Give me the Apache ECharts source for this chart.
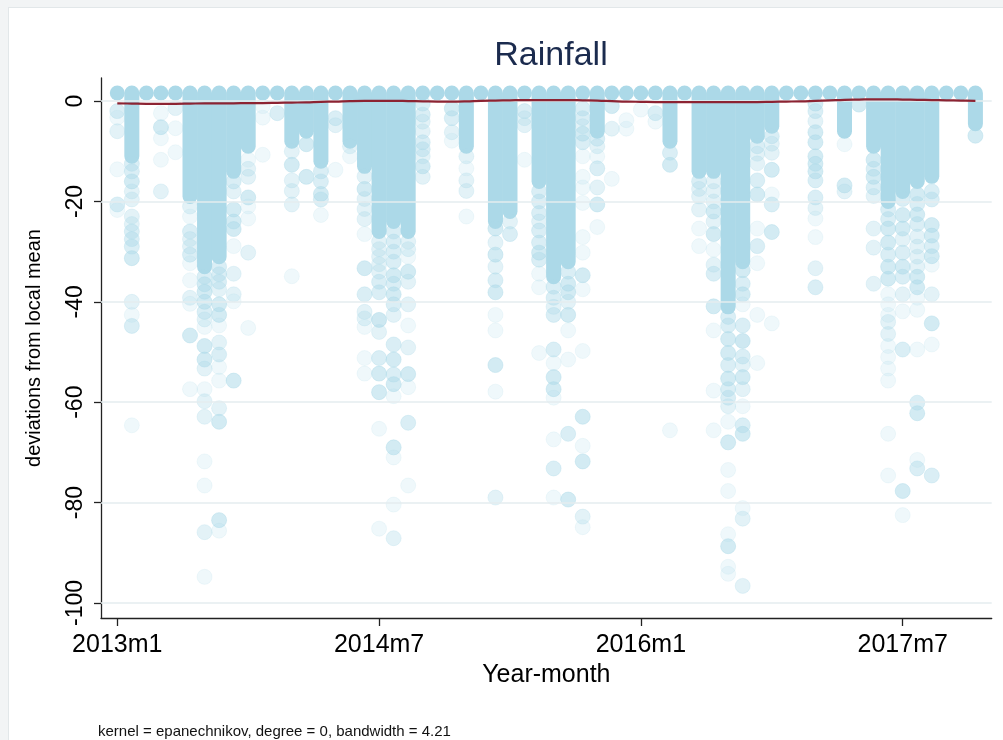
<!DOCTYPE html>
<html>
<head>
<meta charset="utf-8">
<script src="https://cdn.jsdelivr.net/npm/echarts@6/dist/echarts.min.js"></script>
<style>
  html, body { margin: 0; padding: 0; background: #f2f4f5; }
  #frame { position: absolute; left: 8px; top: 7px; width: 1010px; height: 750px;
           background: #ffffff; border: 1px solid #e2e7e9; }
  #chart { position: absolute; left: 0; top: 0; width: 1003px; height: 740px; }
</style>
</head>
<body>
<div id="frame"></div>
<div id="chart"></div>
<script>
// Month index 0 = 2013m1 ... 59 = 2017m12
const chartTitle = 'Rainfall';
const xTitle = 'Year-month';
const yTitle = 'deviations from local mean';
const noteText = 'kernel = epanechnikov, degree = 0, bandwidth = 4.21';
const xTickValues = [0, 18, 36, 54];
const xTickLabels = ['2013m1', '2014m7', '2016m1', '2017m7'];
const yTickValues = [-100, -80, -60, -40, -20, 0];

// Upper end of each month's dense cluster of observations
const clusterTop = [
  1.6,1.6,1.6,1.6,1.6,1.6,1.6,1.6,1.6,1.6,
  1.6,1.6,1.6,1.6,1.6,1.6,1.6,1.6,1.6,1.6,
  1.6,1.6,1.6,1.6,1.6,1.6,1.6,1.6,1.6,1.6,
  1.6,1.6,1.6,1.6,1.6,1.6,1.6,1.6,1.6,1.6,
  1.6,1.6,1.6,1.6,1.6,1.6,1.6,1.6,1.6,1.6,
  1.6,1.6,1.6,1.6,1.6,1.6,1.6,1.6,1.6,1.6
];
// Lower end of each month's dense cluster (null: cluster only at the top)
const clusterBottom = [
  null, -11, null, null, null, -19, -33, -31, -14, -9,
  null, null, -8, -6, -12, null, -8, -13, -26, -24,
  -26, null, null, null, -9, null, -24, -22, null, -16,
  -35, -32, null, -6, null, null, null, null, -8, null,
  -14, -14, -41, -32, -7, -5, null, null, null, null,
  -6, null, -9, -20, -18, -16, -15, null, null, -4.5
];
// Scattered observations per month: [deviation, number of overlapping obs]
const scattered = [
  [[-2,3],[-3.3,1],[-6,2],[-13.6,1],[-20.6,3],[-21.7,1]],
  [[-12.5,3],[-14,3],[-16,4],[-18,2],[-19.6,2],[-23,2],[-24.5,2],[-26,3],[-27.5,3],[-29,3],[-31.3,4],[-40,2],[-42.6,1],[-44.8,3],[-64.6,1]],
  [],
  [[-2.4,1],[-5.2,4],[-7.4,1],[-11.7,1],[-18,2]],
  [[-1.4,2],[-5.4,1],[-10.2,1]],
  [[-21,2],[-23,1],[-26,3],[-27.5,2],[-29,2],[-30.6,3],[-32.3,1],[-35.7,1],[-39.2,2],[-40.4,1],[-46.7,4],[-57.4,1]],
  [[-35,3],[-36.5,4],[-38,4],[-40,4],[-42,3],[-43.5,2],[-45,1],[-48.8,4],[-51.5,4],[-53.3,2],[-57.4,1],[-59.8,2],[-62.9,2],[-71.8,1],[-76.6,1],[-85.9,2],[-94.8,1]],
  [[-33,3],[-34.5,3],[-36,3],[-37.5,2],[-40.5,4],[-42.6,4],[-44.7,1],[-48.1,2],[-50.5,3],[-53,1],[-55.7,1],[-61.2,2],[-63.9,4],[-83.5,4],[-85.6,1]],
  [[-16,3],[-18,2],[-21.6,4],[-24,4],[-25.5,4],[-28.9,1],[-34.4,2],[-38.5,2],[-39.9,1],[-55.7,4]],
  [[-11.7,1],[-13.5,2],[-15.1,2],[-19.2,4],[-21,1],[-23.4,1],[-30.2,2],[-45.2,1]],
  [[-1,1],[-3.3,1],[-10.7,1]],
  [[-2.4,3]],
  [[-10,2],[-12.7,4],[-15.8,2],[-17.9,2],[-20.6,2],[-34.9,1]],
  [[-8.6,4],[-15.1,4]],
  [[-14,3],[-16,3],[-18.5,4],[-19.6,3],[-22.7,1]],
  [[-3.4,3],[-4.8,2],[-13.7,1]],
  [[-9,2],[-11,1]],
  [[-15,2],[-17.5,4],[-19.5,2],[-21.5,2],[-23.5,2],[-26.5,1],[-33.3,4],[-38.5,3],[-42,2],[-43.3,2],[-45,1],[-51.2,1],[-54.3,1]],
  [[-28,2],[-29.5,2],[-31,2],[-32.5,2],[-34,2],[-36,3],[-38.1,3],[-43.6,5],[-46,2],[-51.2,3],[-54.3,4],[-58,4],[-65.3,1],[-85.2,1]],
  [[-26,3],[-28,3],[-30,3],[-32,3],[-34.7,4],[-36.4,3],[-38.5,4],[-40.5,3],[-42.6,2],[-48.5,3],[-51.5,4],[-54.5,3],[-56.4,4],[-58.8,1],[-69,4],[-71,1],[-80.4,1],[-87.1,2]],
  [[-28,2],[-29.5,2],[-31,1],[-34,4],[-36,2],[-40.5,2],[-44.7,1],[-49.1,2],[-54.4,4],[-57,1],[-64.1,3],[-76.6,1]],
  [[-0.5,3],[-2.7,3],[-4.1,2],[-6,2],[-8.2,3],[-9.6,3],[-11,2],[-13,4],[-15.1,2]],
  [],
  [[-1.5,4],[-3.4,3],[-6.2,2],[-7.9,1]],
  [[-11,2],[-13.4,1],[-15.8,2],[-17.9,2],[-23,1]],
  [],
  [[-25.4,4],[-28.2,2],[-30.6,4],[-33,2],[-35.7,3],[-38.1,4],[-42.6,1],[-45.7,1],[-52.6,4],[-57.9,1],[-79,2]],
  [[-24,2],[-26.5,3]],
  [[-2,3],[-3.4,2],[-4.8,2],[-11.7,1]],
  [[-18,3],[-20,3],[-22.3,3],[-24,2],[-25.8,3],[-28.2,3],[-30.2,4],[-31.6,3],[-34.4,1],[-37.1,1],[-50.2,1]],
  [[-37,3],[-39.2,3],[-41,2],[-42.6,3],[-49.5,3],[-52.2,1],[-55,4],[-57.4,4],[-59.1,1],[-67.4,1],[-73.2,3],[-79,1]],
  [[-34,3],[-36.4,4],[-38.1,4],[-40,2],[-42.6,4],[-45.7,1],[-51.5,1],[-66.3,3],[-79.4,4]],
  [[-1.5,3],[-3.4,3],[-5,2],[-6.5,4],[-8.2,3],[-11,1],[-15.1,1],[-17.2,1],[-20.3,1],[-27.1,1],[-30.2,1],[-34.7,4],[-37.5,1],[-49.8,1],[-62.9,4],[-68.7,1],[-71.8,4],[-82.8,2],[-84.9,1]],
  [[-7.5,3],[-9,2],[-11,1],[-13.4,3],[-17.2,2],[-20.6,4],[-25.1,1]],
  [[-1,4],[-5.5,2],[-15.5,1]],
  [[-3.8,1],[-5.5,1]],
  [[-1.7,1]],
  [[-2.4,3],[-4.1,1]],
  [[-10.3,3],[-12.7,4],[-65.6,1]],
  [],
  [[-16,3],[-17.5,2],[-19,2],[-21.6,2],[-25.4,1],[-28.9,1]],
  [[-16,2],[-17.9,2],[-20,2],[-22,4],[-24,2],[-26.5,4],[-29.6,1],[-32.6,2],[-34.4,3],[-40.9,4],[-45.7,1],[-57.7,1],[-65.6,1]],
  [[-43,3],[-44.7,3],[-47.4,4],[-50.2,4],[-52.6,3],[-55.3,4],[-57.4,3],[-59.1,3],[-60.8,2],[-63.9,1],[-68,4],[-73.5,1],[-77.7,1],[-86.3,1],[-88.7,4],[-92.8,1],[-94.2,1]],
  [[-33.7,4],[-36.4,3],[-38.5,4],[-40.5,1],[-44.7,3],[-47.8,5],[-50.9,3],[-52.5,2],[-55,4],[-57.4,2],[-60.8,1],[-64.6,3],[-66.3,4],[-81.1,1],[-83.2,2],[-96.6,2]],
  [[-9,3],[-10.5,2],[-12.4,2],[-15.8,3],[-18.6,4],[-25.4,1],[-28.9,3],[-32.3,1],[-42.6,1],[-52.2,1]],
  [[-7,3],[-8.5,2],[-10.3,2],[-13.7,4],[-18.6,1],[-20.6,3],[-26.1,4],[-44.3,1]],
  [],
  [],
  [[-0.5,4],[-2,3],[-4,2],[-6.2,4],[-8.2,4],[-11,4],[-12.5,4],[-14,4],[-15.8,3],[-19.2,3],[-21.3,2],[-23.4,1],[-27.1,1],[-33.3,2],[-37.1,3]],
  [],
  [[-8.6,1],[-16.8,4],[-18,2]],
  [[-0.7,4]],
  [[-11.7,4],[-13.5,3],[-15.1,4],[-17.2,3],[-18.9,2],[-25.4,2],[-29.2,2],[-36.4,2]],
  [[-21.6,3],[-23.5,3],[-25.4,4],[-28.2,4],[-30.6,3],[-33,4],[-35.4,4],[-38.5,1],[-40.5,1],[-42.6,1],[-44,2],[-46.4,2],[-48.8,1],[-51,1],[-53.3,1],[-55.7,1],[-66.3,1],[-74.6,1]],
  [[-19.5,3],[-22.7,4],[-25.4,4],[-27.5,2],[-30.2,3],[-33,4],[-35,3],[-38.5,2],[-41.9,1],[-49.5,3],[-77.7,4],[-82.5,1]],
  [[-18.6,4],[-20.5,3],[-22.6,4],[-24.5,3],[-27,2],[-29,2],[-31,2],[-33,2],[-35,4],[-37.1,4],[-39.2,1],[-41.6,1],[-49.5,1],[-60.1,3],[-62.2,4],[-71.5,1],[-73.2,3]],
  [[-18,3],[-19.6,3],[-24.7,4],[-26.8,4],[-28.9,3],[-30.9,4],[-32.6,1],[-38.5,2],[-44.3,4],[-48.5,1],[-74.6,3]],
  [],
  [],
  [[-6.9,4]]
];
// Local-mean smooth (epanechnikov kernel) evaluated per month
const smoothLine = [
  -0.45,-0.5,-0.55,-0.55,-0.55,-0.5,-0.45,-0.45,-0.45,-0.4,
  -0.4,-0.35,-0.3,-0.25,-0.15,-0.1,0,0.05,0.05,0.05,
  0,-0.05,-0.1,-0.1,-0.05,0.05,0.1,0.15,0.2,0.2,
  0.2,0.2,0.15,0.1,0,-0.1,-0.15,-0.2,-0.2,-0.2,
  -0.2,-0.2,-0.2,-0.2,-0.2,-0.15,-0.1,-0.05,0.05,0.15,
  0.25,0.3,0.35,0.35,0.3,0.25,0.2,0.15,0.1,0.05
];

const FONT = '"Liberation Sans", Arial, Helvetica, sans-serif';
const MARKER = 15;
const DOT_RGB = '172,217,232';
const DOT_SOLID = 'rgb(' + DOT_RGB + ')';
const BASE_ALPHA = 0.24;

// Dense clusters drawn as capsules spanning their value range
const clusterData = clusterTop.map((t, m) => [m, t, clusterBottom[m] === null ? t : clusterBottom[m]]);

// Scattered observations; overlapping counts darken the fill
const dotData = [];
scattered.forEach((list, m) => {
  list.forEach(([v, w]) => {
    const a = 1 - Math.pow(1 - BASE_ALPHA, w);
    const c = 'rgba(' + DOT_RGB + ',' + a.toFixed(3) + ')';
    dotData.push({ value: [m, v], itemStyle: { color: c, borderColor: c } });
  });
});

const lineData = smoothLine.map((v, m) => [m, v]);

const chart = echarts.init(document.getElementById('chart'), null, { renderer: 'canvas' });
chart.setOption({
  animation: false,
  backgroundColor: 'transparent',
  title: {
    text: chartTitle,
    left: 546, top: 34, textAlign: 'center',
    textStyle: { fontFamily: FONT, fontSize: 34, fontWeight: 'normal', color: '#1b2b4e' }
  },
  graphic: [{
    type: 'text', left: 98, top: 724,
    style: { text: noteText, fontFamily: FONT, fontSize: 15, fill: '#111' }
  }],
  grid: { left: 101, right: 11.3, top: 78, bottom: 122, containLabel: false },
  xAxis: {
    type: 'value', min: -1.12, max: 60.12,
    name: xTitle, nameLocation: 'middle', nameGap: 44,
    nameTextStyle: { fontFamily: FONT, fontSize: 25, color: '#000' },
    axisLine: { show: true, onZero: false, lineStyle: { color: '#222', width: 1.3 } },
    axisTick: { show: true, length: 8, customValues: xTickValues, lineStyle: { color: '#222', width: 1.3 } },
    axisLabel: {
      customValues: xTickValues, margin: 15,
      fontFamily: FONT, fontSize: 25, color: '#000',
      formatter: v => xTickLabels[xTickValues.indexOf(v)] || ''
    },
    splitLine: { show: false }
  },
  yAxis: {
    type: 'value', min: -103, max: 4.6,
    name: yTitle, nameLocation: 'middle', nameGap: 57, nameRotate: 90,
    nameTextStyle: { fontFamily: FONT, fontSize: 20, color: '#000' },
    axisLine: { show: true, onZero: false, lineStyle: { color: '#222', width: 1.3 } },
    axisTick: { show: true, length: 7, customValues: yTickValues, lineStyle: { color: '#222', width: 1.3 } },
    axisLabel: {
      customValues: yTickValues, rotate: 90, margin: 14,
      fontFamily: FONT, fontSize: 23, color: '#000'
    },
    splitLine: { show: false }
  },
  series: [
    {
      // horizontal grid lines at the labelled deviations
      type: 'line', data: [], z: 1, silent: true,
      markLine: {
        silent: true, symbol: 'none', animation: false,
        label: { show: false },
        lineStyle: { color: '#e4edef', width: 1.6, type: 'solid' },
        data: yTickValues.map(v => ({ yAxis: v }))
      }
    },
    {
      type: 'custom', z: 2, silent: true,
      data: clusterData,
      encode: { x: 0, y: [1, 2] },
      renderItem: (params, api) => {
        const m = api.value(0);
        const pTop = api.coord([m, api.value(1)]);
        const pBot = api.coord([m, api.value(2)]);
        const r = MARKER / 2;
        return {
          type: 'rect',
          shape: { x: pTop[0] - r, y: pTop[1] - r, width: MARKER, height: pBot[1] - pTop[1] + MARKER, r: r },
          style: { fill: DOT_SOLID }
        };
      }
    },
    {
      type: 'scatter', z: 3, silent: true, large: false,
      symbol: 'circle', symbolSize: MARKER,
      itemStyle: { borderWidth: 0.8 },
      data: dotData
    },
    {
      type: 'line', z: 5, silent: true,
      data: lineData, smooth: 0.4, showSymbol: false, symbol: 'none',
      lineStyle: { color: '#8c2332', width: 2.2 }
    }
  ]
});
</script>
</body>
</html>
